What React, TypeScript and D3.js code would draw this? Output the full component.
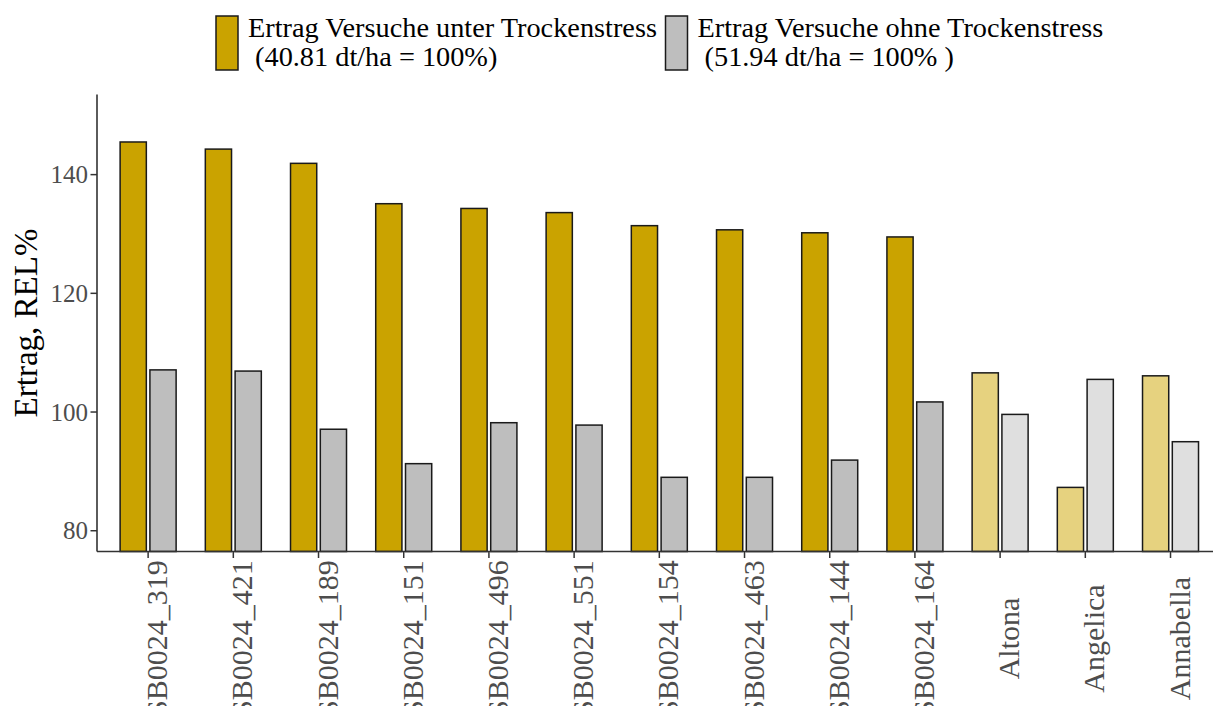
import React from "react";
import * as d3 from "d3";

const categories = [
  "SB0024_319", "SB0024_421", "SB0024_189", "SB0024_151", "SB0024_496",
  "SB0024_551", "SB0024_154", "SB0024_463", "SB0024_144", "SB0024_164",
  "Altona", "Angelica", "Annabella",
];
const stressValues = [145.5, 144.3, 141.9, 135.1, 134.3, 133.6, 131.4, 130.7, 130.2, 129.5, 106.6, 87.3, 106.1];
const noStressValues = [107.1, 106.9, 97.1, 91.3, 98.2, 97.8, 89.0, 89.0, 91.9, 101.7, 99.6, 105.5, 95.0];
const checkVarieties = ["Altona", "Angelica", "Annabella"];
const yTicks = [80, 100, 120, 140];
const seriesKeys = ["stress", "nostress"];
const legendLines = [
  ["Ertrag Versuche unter Trockenstress", " (40.81 dt/ha = 100%)"],
  ["Ertrag Versuche ohne Trockenstress", " (51.94 dt/ha = 100% )"],
];

const W = 1213;
const H = 706;
const left = 97;
const top = 94.5;
const bottom = 551.5;
const FONT = "'Liberation Serif', 'Times New Roman', serif";
const colors: Record<string, string> = { stress: "#CAA300", nostress: "#BEBEBE" };
const lightColors: Record<string, string> = { stress: "#E6D27F", nostress: "#DFDFDF" };

export default function App() {
  const step = 85.2;
  const x = d3.scaleBand<string>()
    .domain(categories)
    .range([left, left + step * (categories.length + 0.2)])
    .paddingInner(0)
    .paddingOuter(0.1);
  const inner = d3.scaleBand<string>().domain(seriesKeys).range([0, 56]).paddingInner(0.12);
  const y = d3.scaleLinear().domain([76.5, 153.5]).range([bottom, top]);

  return (
    <svg width={W} height={H} style={{ position: "absolute", left: 0, top: 0 }} fontFamily={FONT}>
      <rect x={0} y={0} width={W} height={H} fill="white" />
      {/* bars */}
      {categories.map((c, i) => {
        const cx = (x(c) as number) + x.bandwidth() / 2;
        const isCheck = checkVarieties.includes(c);
        const vals: Record<string, number> = { stress: stressValues[i], nostress: noStressValues[i] };
        return (
          <g key={c}>
            {seriesKeys.map((k) => (
              <rect
                key={k}
                x={cx - 28 + (inner(k) as number)}
                y={y(vals[k])}
                width={inner.bandwidth()}
                height={bottom - y(vals[k])}
                fill={isCheck ? lightColors[k] : colors[k]}
                stroke="#1a1a1a"
                strokeWidth={1.5}
              />
            ))}
          </g>
        );
      })}
      {/* axes */}
      <line x1={left} x2={left} y1={top} y2={bottom} stroke="#333" strokeWidth={1.6} />
      <line x1={left} x2={W} y1={bottom} y2={bottom} stroke="#333" strokeWidth={1.6} />
      {yTicks.map((t) => (
        <g key={t}>
          <line x1={left - 6.5} x2={left} y1={y(t)} y2={y(t)} stroke="#333" strokeWidth={1.5} />
          <text x={left - 9} y={y(t)} dy="0.35em" textAnchor="end" fontSize={25} fill="#4D4D4D">
            {t}
          </text>
        </g>
      ))}
      {categories.map((c) => {
        const cx = (x(c) as number) + x.bandwidth() / 2;
        return (
          <g key={c}>
            <line x1={cx} x2={cx} y1={bottom} y2={bottom + 6.5} stroke="#333" strokeWidth={1.5} />
            <text
              transform={`translate(${cx + 19},638.5) rotate(-90)`}
              textAnchor="middle"
              fontSize={30}
              fill="#4D4D4D"
            >
              {c}
            </text>
          </g>
        );
      })}
      <text
        transform={`translate(37,${(top + bottom) / 2}) rotate(-90)`}
        textAnchor="middle"
        fontSize={33}
        fill="black"
      >
        Ertrag, REL%
      </text>
      {/* legend */}
      {seriesKeys.map((k, i) => {
        const lx = i === 0 ? 216 : 665.5;
        return (
          <g key={k}>
            <rect x={lx} y={16} width={22} height={54} fill={colors[k]} stroke="#1a1a1a" strokeWidth={1.5} />
            <text x={lx + 32} y={37} fontSize={28.3} fill="black" style={{ whiteSpace: "pre" }}>
              {legendLines[i][0]}
            </text>
            <text x={lx + 32} y={66} fontSize={28.3} fill="black" style={{ whiteSpace: "pre" }}>
              {legendLines[i][1]}
            </text>
          </g>
        );
      })}
    </svg>
  );
}
